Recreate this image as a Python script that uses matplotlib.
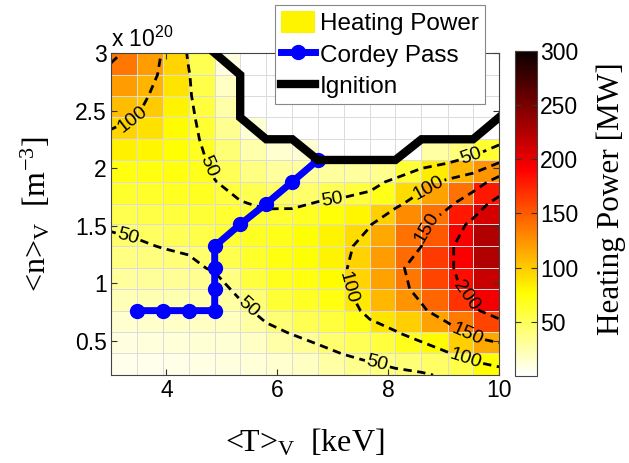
import matplotlib
matplotlib.use("Agg")
import matplotlib.pyplot as plt
from matplotlib.lines import Line2D
from matplotlib.patches import Patch
import numpy

plt.rcParams["font.family"] = ["Liberation Sans", "DejaVu Sans"]
plt.rcParams["axes.unicode_minus"] = True

# grid of the scan (vertices), <T>_V in keV and <n>_V in 1e20 m^-3
TEMPERATURE_KEV = [3.00, 3.47, 3.93, 4.40, 4.87, 5.33, 5.80, 6.27,
                   6.73, 7.20, 7.67, 8.13, 8.60, 9.07, 9.53, 10.00]
DENSITY_1E20 = [0.20, 0.39, 0.57, 0.76, 0.95, 1.13, 1.32, 1.51,
                1.69, 1.88, 2.07, 2.25, 2.44, 2.63, 2.81, 3.00]

# heating power [MW], one row per density, one column per temperature
HEATING_POWER_MW = [
    [6, 7, 8, 9, 10, 12, 15, 18, 28, 34, 38, 42, 46, 55, 75, 85],
    [10, 11, 12, 13, 14, 18, 26, 32, 44, 51, 58, 68, 78, 98, 115, 125],
    [15, 16, 17, 18, 19, 28, 42, 52, 58, 70, 88, 98, 118, 135, 160, 175],
    [22, 23, 24, 25, 27, 42, 60, 65, 72, 86, 108, 125, 145, 168, 195, 215],
    [30, 31, 32, 33, 38, 58, 68, 72, 78, 96, 118, 138, 160, 185, 215, 235],
    [38, 39, 40, 44, 53, 64, 72, 76, 82, 97, 120, 142, 165, 192, 225, 245],
    [44, 47, 51, 54, 60, 66, 70, 76, 82, 92, 115, 140, 150, 192, 225, 248],
    [53, 56, 58, 60, 62, 60, 62, 66, 74, 80, 98, 128, 140, 180, 208, 240],
    [63, 64, 66, 66, 58, 52, 46, 45, 52, 58, 70, 92, 118, 140, 180, 215],
    [72, 72, 72, 68, 51, 38, 30, 30, 30, 30, 35, 60, 85, 108, 125, 170],
    [83, 80, 76, 66, 42, 25, 15, 14, 0, 0, 0, 0, 28, 40, 62, 90],
    [95, 90, 78, 62, 33, 13, 0, 0, 0, 0, 0, 0, 0, 0, 0, 35],
    [106, 100, 82, 58, 26, 0, 0, 0, 0, 0, 0, 0, 0, 0, 0, 0],
    [120, 110, 88, 54, 18, 0, 0, 0, 0, 0, 0, 0, 0, 0, 0, 0],
    [138, 120, 95, 52, 10, 0, 0, 0, 0, 0, 0, 0, 0, 0, 0, 0],
    [160, 135, 98, 46, 0, 0, 0, 0, 0, 0, 0, 0, 0, 0, 0, 0],
]

CORDEY_T = [3.47, 3.93, 4.40, 4.87, 4.87, 4.87, 4.87, 5.33, 5.80, 6.27, 6.73]
CORDEY_N = [0.76, 0.76, 0.76, 0.76, 0.95, 1.13, 1.32, 1.51, 1.69, 1.88, 2.07]

IGNITION_T = [4.87, 5.33, 5.33, 5.80, 6.27, 6.73, 7.20, 7.67, 8.13, 8.60, 9.07, 9.53, 10.00]
IGNITION_N = [3.00, 2.81, 2.44, 2.25, 2.25, 2.07, 2.07, 2.07, 2.07, 2.25, 2.25, 2.25, 2.44]

CONTOUR_LEVELS = [50, 100, 150, 200]
COLORBAR_TICKS = [50, 100, 150, 200, 250, 300]
X_TICKS = [4, 6, 8, 10]
Y_TICKS = [0.5, 1, 1.5, 2, 2.5, 3]
Y_TICK_LABELS = ["0.5", "1", "1.5", "2", "2.5", "3"]

# where the inline contour labels sit
LABEL_SPOTS = [(3.34, 2.48), (4.70, 2.00), (7.00, 1.69), (9.50, 2.09),
               (3.30, 1.39), (5.45, 0.78), (7.80, 0.29), (8.80, 1.76),
               (7.22, 0.96), (9.40, 0.35), (8.79, 1.47), (9.42, 0.54),
               (9.36, 0.87)]

SERIF = ["Liberation Serif", "DejaVu Serif"]


def main():
    temperature = numpy.array(TEMPERATURE_KEV)
    density = numpy.array(DENSITY_1E20)
    power = numpy.array(HEATING_POWER_MW, dtype=float)

    figure = plt.figure(figsize=(6.29, 4.63), dpi=100)
    axis = figure.add_axes([0.1765, 0.19, 0.617, 0.6955])
    cmap = plt.get_cmap("hot_r")

    # matlab-style pcolor: each cell takes the value of its lower-left vertex
    mesh = axis.pcolormesh(temperature, density, power[:-1, :-1], cmap=cmap,
                           vmin=0, vmax=300, shading="flat",
                           edgecolors="#dcdcdc", linewidth=0.5)

    contours = axis.contour(temperature, density, power, levels=CONTOUR_LEVELS,
                            colors="black", linewidths=2.0,
                            linestyles=[(0, (3.0, 2.0))])
    axis.clabel(contours, manual=LABEL_SPOTS, inline=True, fontsize=14,
                fmt="%d", inline_spacing=2)

    axis.plot(CORDEY_T, CORDEY_N, color="#0000ff", linewidth=5, marker="o",
              markersize=10, zorder=4)
    axis.plot(IGNITION_T, IGNITION_N, color="black", linewidth=6,
              solid_joinstyle="miter", zorder=5)

    axis.set_xlim(3, 10)
    axis.set_ylim(0.2, 3.0)
    axis.set_xticks(X_TICKS)
    axis.set_yticks(Y_TICKS)
    axis.set_yticklabels(Y_TICK_LABELS)
    axis.tick_params(direction="in", length=4, top=True, right=True,
                     labelsize=16.5, pad=3, color="#333333")
    for spine in axis.spines.values():
        spine.set_color("#444444")
        spine.set_linewidth(0.8)

    axis.text(0.0, 1.005, r"x 10$\mathregular{^{20}}$", transform=axis.transAxes,
              ha="left", va="bottom", fontsize=16.5)

    axis.set_xlabel(r"<T>$\mathregular{_V}$  [keV]", fontsize=23, family=SERIF)
    axis.xaxis.set_label_coords(0.5, -0.16)
    axis.set_ylabel(r"<n>$\mathregular{_V}$  [m$\mathregular{^{-3}}$]",
                    fontsize=23, family=SERIF)
    axis.yaxis.set_label_coords(-0.15, 0.5)

    colorbar_axis = figure.add_axes([0.819, 0.188, 0.035, 0.702])
    colorbar = figure.colorbar(mesh, cax=colorbar_axis, ticks=COLORBAR_TICKS)
    colorbar.outline.set_edgecolor("#444444")
    colorbar.outline.set_linewidth(0.8)
    colorbar_axis.tick_params(direction="in", length=4, left=True, right=True,
                              labelsize=16.5, pad=2, color="#333333")
    figure.text(0.972, 0.57, "Heating Power [MW]", rotation=90, ha="center",
                va="center", fontsize=22.5, family=SERIF)

    handles = [
        Patch(facecolor=cmap(0.27), edgecolor="none"),
        Line2D([], [], color="#0000ff", linewidth=5, marker="o", markersize=10),
        Line2D([], [], color="black", linewidth=6),
    ]
    legend = figure.legend(handles, ["Heating Power", "Cordey Pass", "Ignition"],
                           loc="upper left", bbox_to_anchor=(0.437, 0.989),
                           borderaxespad=0, fontsize=17.5, fancybox=False,
                           framealpha=1, edgecolor="#888888", handlelength=1.4,
                           handleheight=1.0, handletextpad=0.2, labelspacing=0.3,
                           borderpad=0.25)
    legend.get_frame().set_linewidth(0.8)

    figure.savefig("out.png", dpi=100)
    plt.close(figure)


if __name__ == "__main__":
    main()
